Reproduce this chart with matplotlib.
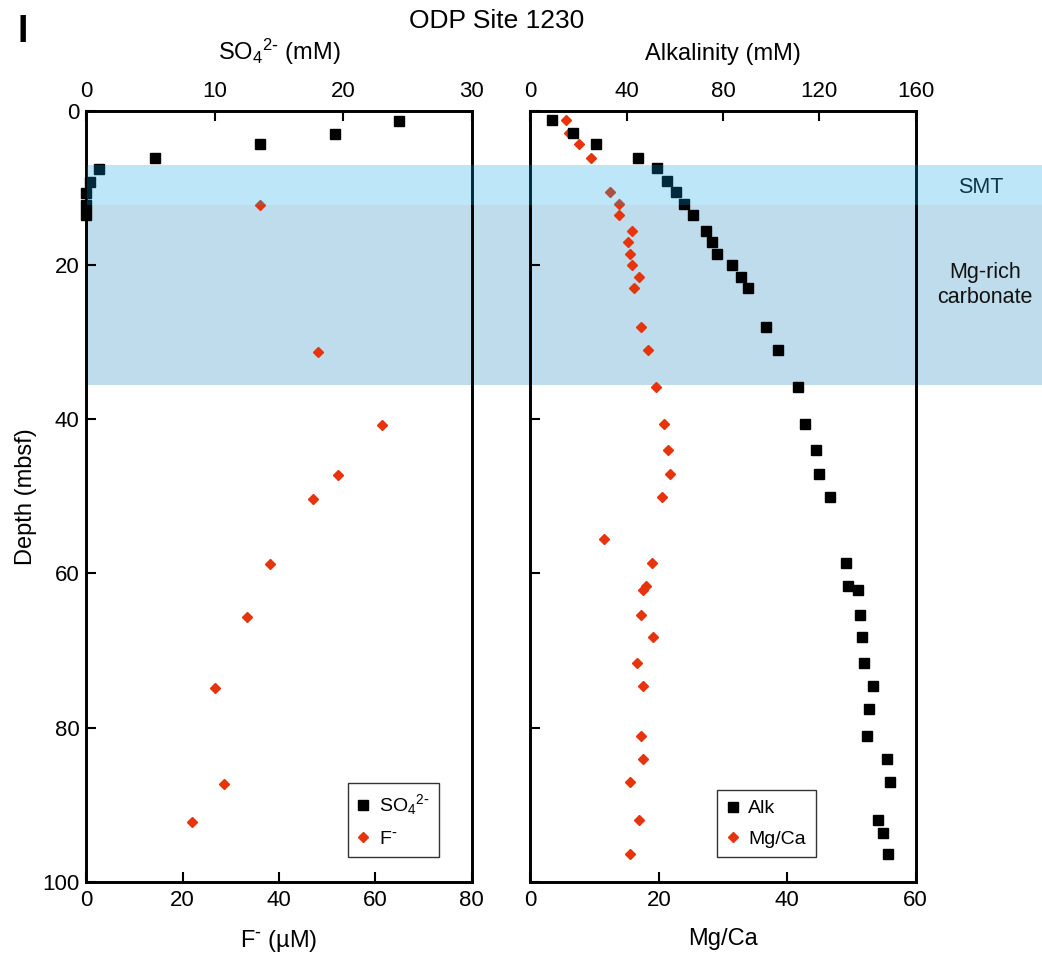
import matplotlib
matplotlib.use('Agg')
import matplotlib.pyplot as plt
from matplotlib.patches import Rectangle
from matplotlib.transforms import blended_transform_factory

plt.rcParams['font.family'] = ['Liberation Sans', 'DejaVu Sans']
plt.rcParams['mathtext.default'] = 'regular'

# ---- data (depth in mbsf) ----
so4_depth = [1.4, 3.0, 4.4, 6.2, 7.6, 9.3, 10.7, 12.3, 13.6]
so4 = [24.35, 19.4, 13.5, 5.3, 1.0, 0.3, 0.0, 0.0, 0.0]

f_depth = [12.3, 31.3, 40.8, 47.3, 50.3, 58.8, 65.6, 74.8, 87.3, 92.2]
fluoride = [36.0, 48.2, 61.5, 52.3, 47.1, 38.1, 33.4, 26.7, 28.5, 21.9]

alk_depth = [1.2, 2.9, 4.3, 6.1, 7.5, 9.1, 10.5, 12.1, 13.5, 15.6, 17.0, 18.6,
             20.0, 21.6, 23.0, 28.1, 31.1, 35.9, 40.6, 44.0, 47.1, 50.1, 58.6,
             61.6, 62.1, 65.4, 68.2, 71.6, 74.6, 77.6, 81.1, 84.1, 87.1, 92.0,
             93.6, 96.4]
alk = [8.8, 17.8, 27.2, 44.5, 52.6, 56.9, 60.6, 63.8, 67.4, 73.1, 75.6, 77.7,
       83.8, 87.5, 90.4, 97.7, 103.0, 111.2, 114.1, 118.5, 119.9, 124.3, 131.1,
       131.8, 136.2, 137.1, 137.7, 138.4, 142.2, 140.6, 140.0, 148.0, 149.6,
       144.3, 146.6, 148.7]

mgca_depth = [1.2, 2.9, 4.3, 6.1, 10.5, 12.1, 13.5, 15.6, 17.0, 18.6, 20.0,
              21.6, 23.0, 28.1, 31.1, 35.9, 40.6, 44.0, 47.1, 50.1, 55.6, 58.6,
              61.6, 62.1, 65.4, 68.2, 71.6, 74.6, 81.1, 84.1, 87.1, 92.0, 96.4]
mgca = [5.5, 6.0, 7.5, 9.4, 12.4, 13.8, 13.8, 15.8, 15.2, 15.5, 15.8, 16.9,
        16.1, 17.2, 18.3, 19.5, 20.8, 21.4, 21.7, 20.5, 11.4, 18.9, 18.0, 17.5,
        17.2, 19.1, 16.6, 17.5, 17.2, 17.5, 15.5, 16.9, 15.5]

# zones (mbsf)
smt_zone = (7.0, 12.3)
mg_zone = (12.3, 35.6)

red = '#E8340C'
tick_fs = 16
lab_fs = 17
so4_lab = r'SO$_4$$^{2\text{-}}$'
f_lab = r'F$^{\text{-}}$'

fig = plt.figure(figsize=(10.42, 9.61), dpi=100)
ax1 = fig.add_axes([0.083, 0.0822, 0.3695, 0.8028])
ax2 = fig.add_axes([0.5091, 0.0822, 0.3695, 0.8028])
ax1t = ax1.twiny()
ax2t = ax2.twiny()

for a in (ax1, ax2, ax1t, ax2t):
    a.set_facecolor('none')
    for s in a.spines.values():
        s.set_linewidth(1.9)
    a.tick_params(direction='in', length=7, width=1.5, labelsize=tick_fs)

# left panel
ax1.set_xlim(0, 80)
ax1.set_ylim(100, 0)
ax1.set_xticks([0, 20, 40, 60, 80])
ax1.set_yticks([0, 20, 40, 60, 80, 100])
ax1.tick_params(axis='x', pad=6)
ax1.tick_params(axis='y', pad=5)
ax1t.set_xlim(0, 30)
ax1t.set_xticks([0, 10, 20, 30])
ax1t.tick_params(axis='x', pad=6)

h_f, = ax1.plot(fluoride, f_depth, ls='none', marker='D', ms=5.4, color=red,
                mec=red, clip_on=False, zorder=3)
h_s, = ax1t.plot(so4, so4_depth, ls='none', marker='s', ms=7, color='black',
                 clip_on=False, zorder=3)

ax1.set_ylabel('Depth (mbsf)', fontsize=lab_fs, labelpad=4)
ax1.set_xlabel(f_lab + ' (µM)', fontsize=lab_fs, labelpad=12)
ax1t.set_xlabel(so4_lab + ' (mM)', fontsize=lab_fs, labelpad=15)

leg1 = ax1.legend([h_s, h_f], [so4_lab, f_lab],
                  loc='lower left', bbox_to_anchor=(0.679, 0.032),
                  fontsize=14, frameon=True, fancybox=False,
                  handlelength=0.6, handletextpad=0.5, labelspacing=0.65,
                  borderpad=0.5, borderaxespad=0)
leg1.get_frame().set_edgecolor('black')
leg1.get_frame().set_linewidth(1.0)

# right panel
ax2.set_xlim(0, 60)
ax2.set_ylim(100, 0)
ax2.set_xticks([0, 20, 40, 60])
ax2.set_yticks([0, 20, 40, 60, 80, 100])
ax2.set_yticklabels([])
ax2.tick_params(axis='x', pad=6)
ax2t.set_xlim(0, 160)
ax2t.set_xticks([0, 40, 80, 120, 160])
ax2t.tick_params(axis='x', pad=6)

h_m, = ax2.plot(mgca, mgca_depth, ls='none', marker='D', ms=5.4, color=red,
                mec=red, clip_on=False, zorder=2)
h_a, = ax2t.plot(alk, alk_depth, ls='none', marker='s', ms=7, color='black',
                 clip_on=False, zorder=3)

ax2.set_xlabel('Mg/Ca', fontsize=lab_fs, labelpad=12)
ax2t.set_xlabel('Alkalinity (mM)', fontsize=lab_fs, labelpad=15)

leg2 = ax2.legend([h_a, h_m], ['Alk', 'Mg/Ca'],
                  loc='lower left', bbox_to_anchor=(0.485, 0.032),
                  fontsize=14, frameon=True, fancybox=False,
                  handlelength=0.6, handletextpad=0.5, labelspacing=0.65,
                  borderpad=0.5, borderaxespad=0)
leg2.get_frame().set_edgecolor('black')
leg2.get_frame().set_linewidth(1.0)

# shaded zones across the whole figure
trans = blended_transform_factory(fig.transFigure, ax1.transData)
x0 = 0.0835
fig.patches.append(Rectangle((x0, mg_zone[0]), 1 - x0, mg_zone[1] - mg_zone[0],
                             transform=trans, facecolor='#BFDCED',
                             edgecolor='none', zorder=-1, figure=fig))
fig.patches.append(Rectangle((x0, smt_zone[0]), 1 - x0, smt_zone[1] - smt_zone[0],
                             transform=trans, facecolor='#00A6E6', alpha=0.26,
                             edgecolor='none', zorder=10, figure=fig))

fig.text(0.941, 0.8045, 'SMT', fontsize=15.5, ha='center', va='center',
         color='#111111', zorder=5)
fig.text(0.945, 0.703, 'Mg-rich\ncarbonate', fontsize=15.5, ha='center',
         va='center', color='#111111', linespacing=1.25, zorder=5)

fig.text(0.477, 0.978, 'ODP Site 1230', fontsize=19, ha='center', va='center')
fig.text(0.0215, 0.967, 'I', fontsize=27, fontweight='bold', ha='center',
         va='center')

fig.savefig('out.png', dpi=100)
